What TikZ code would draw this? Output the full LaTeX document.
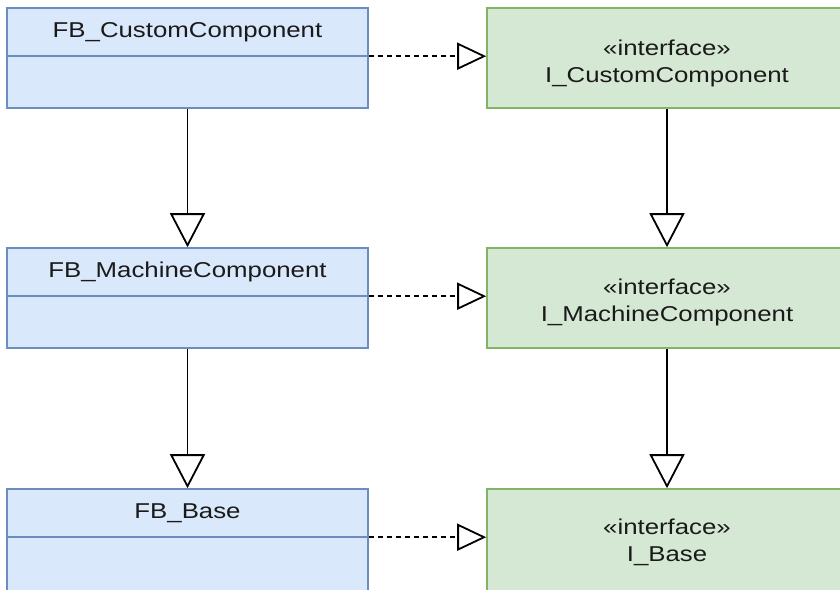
\documentclass[tikz,border=0pt]{standalone}
\usepackage{fontspec}
\setmainfont{Liberation Sans}[FakeStretch=1.2]
\usetikzlibrary{arrows.meta}
\definecolor{clsfill}{HTML}{DAE8FC}
\definecolor{clsline}{HTML}{6C8EBF}
\definecolor{ifcfill}{HTML}{D5E8D4}
\definecolor{ifcline}{HTML}{82B366}
\definecolor{txt}{HTML}{1A1A1A}
\tikzset{
  classbox/.style={draw=clsline, fill=clsfill, line width=1.6pt,
    minimum width=361pt, minimum height=100pt, inner sep=0pt},
  ifacebox/.style={draw=ifcline, fill=ifcfill, line width=1.6pt,
    minimum width=363pt, minimum height=100pt, inner sep=0pt},
  divider/.style={draw=clsline, line width=1.6pt},
  label/.style={font=\fontsize{21.5}{25}\selectfont, text=txt, inner sep=0pt},
  inherit/.style={draw=black, line width=1.8pt,
    -{Triangle[open, fill=white, length=34pt, width=35pt, line width=1.8pt]}},
  realize/.style={draw=black, line width=1.8pt, dash pattern=on 5pt off 4pt,
    -{Triangle[open, fill=white, length=29pt, width=27pt, line width=1.8pt]}},
}
\begin{document}
\begin{tikzpicture}[x=1pt, y=-1pt]
  \useasboundingbox (0,0) rectangle (840,589);
  \clip (0,0) rectangle (840,589);

  % implementing function blocks (the lowest row runs past the lower edge)
  \node[classbox] (fbc) at (187.5,58) {};
  \node[classbox] (fbm) at (187.5,298) {};
  \node[classbox, minimum height=106pt] (fbb) at (187.5,542) {};
  \foreach \n in {fbc,fbm,fbb}
    \draw[divider] ([yshift=-49pt]\n.north west) coordinate (\n-l)
                -- ([yshift=-49pt]\n.north east) coordinate (\n-r);
  \node[label] (fbc-t) at (187.5,32) {FB\_CustomComponent};
  \node[label] (fbm-t) at (187.5,272) {FB\_MachineComponent};
  \node[label] (fbb-t) at (187.5,513) {FB\_Base};

  % interfaces
  \node[ifacebox] (ic) at (668.5,58) {};
  \node[ifacebox] (im) at (668.5,298) {};
  \node[ifacebox, minimum height=106pt] (ib) at (668.5,542) {};
  \node[label] (ic-s) at (667,48) {«interface»};
  \node[label] (ic-t) at (667,77) {I\_CustomComponent};
  \node[label] (im-s) at (667,287) {«interface»};
  \node[label] (im-t) at (667,316) {I\_MachineComponent};
  \node[label] (ib-s) at (667,527) {«interface»};
  \node[label] (ib-t) at (667,556) {I\_Base};

  % generalisation
  \draw[inherit] (fbc.south) -- (fbm.north);
  \draw[inherit] (fbm.south) -- (fbb.north);
  \draw[inherit] (ic.south -| ic-t) -- (im.north -| ic-t);
  \draw[inherit] (im.south -| ic-t) -- (ib.north -| ic-t);

  % realisation
  \draw[realize] (fbc-r) -- (fbc-r -| ic.west);
  \draw[realize] (fbm-r) -- (fbm-r -| im.west);
  \draw[realize] (fbb-r) -- (fbb-r -| ib.west);
\end{tikzpicture}
\end{document}
